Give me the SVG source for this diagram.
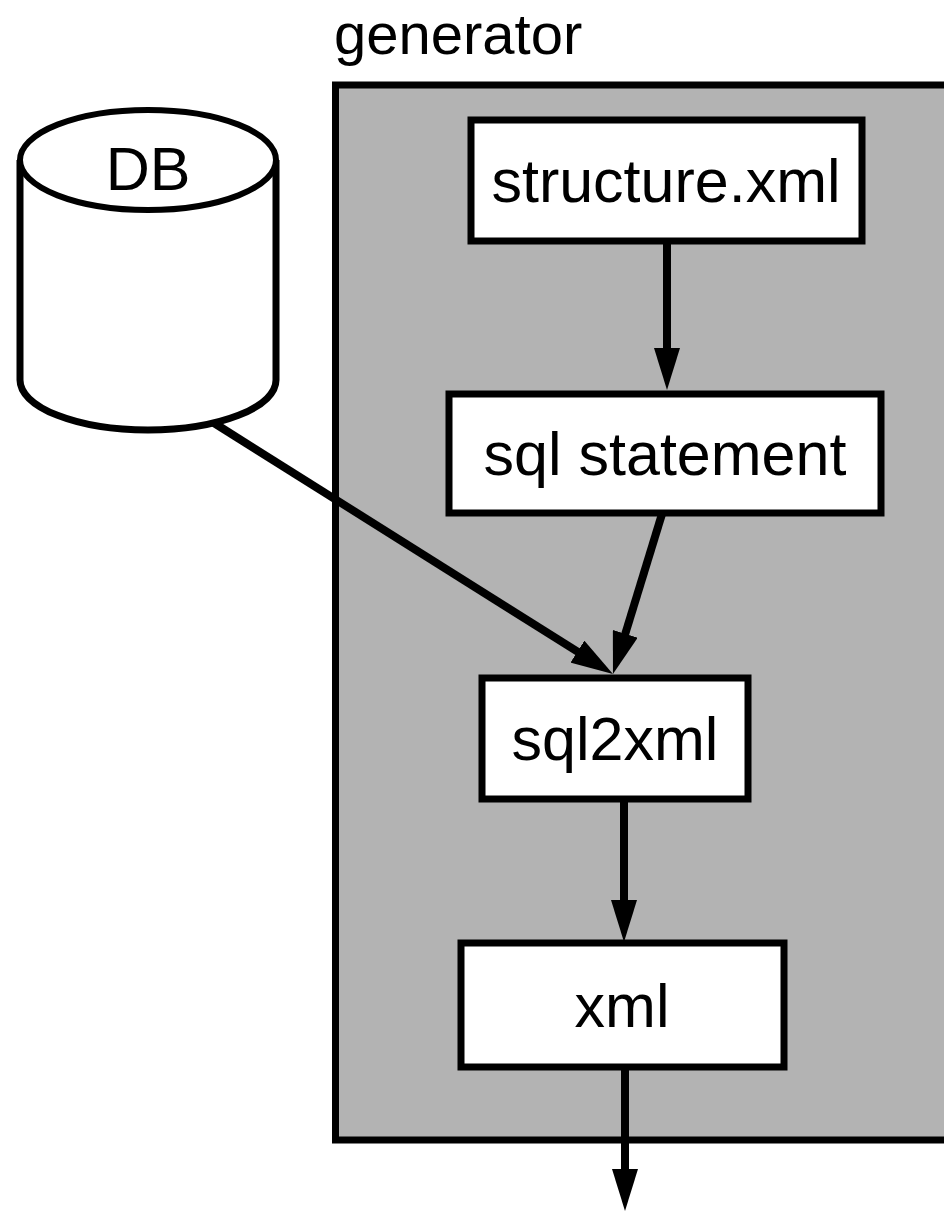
<svg xmlns="http://www.w3.org/2000/svg" width="944" height="1211" viewBox="0 0 944 1211">
<style>
.box{fill:#fff;stroke:#000;stroke-width:7}
.lbl{font-family:"Liberation Sans",Arial,sans-serif;font-size:61px;fill:#000;text-anchor:middle}
.edge{stroke:#000;stroke-width:8;fill:none}
</style>
<defs>
<marker id="ah" markerUnits="userSpaceOnUse" markerWidth="42" markerHeight="26" viewBox="-2 -13 42 26" refX="0" refY="0" orient="auto">
<path d="M-2,-13 L40,0 L-2,13 z" fill="#000"/>
</marker>
</defs>
<g id="generator">
<rect x="335.5" y="85" width="700" height="1055" fill="#b3b3b3" stroke="#000" stroke-width="7"/>
<text x="334" y="54" class="lbl" style="text-anchor:start;font-size:58px">generator</text>
</g>
<g id="db">
<path d="M20,160 L20,380 A128,50 0 0 0 276,380 L276,160" fill="#fff" stroke="#000" stroke-width="7"/>
<ellipse cx="148" cy="160" rx="128" ry="50" fill="#fff" stroke="#000" stroke-width="6"/>
<text x="148" y="190" class="lbl">DB</text>
</g>
<g id="structure">
<rect class="box" x="471" y="120" width="391" height="121"/>
<text x="666" y="202" class="lbl">structure.xml</text>
</g>
<g id="sqlstatement">
<rect class="box" x="449" y="394" width="432" height="119"/>
<text x="665" y="475" class="lbl">sql statement</text>
</g>
<g id="sql2xml">
<rect class="box" x="482" y="678" width="266" height="121"/>
<text x="615" y="760" class="lbl">sql2xml</text>
</g>
<g id="xml">
<rect class="box" x="461" y="943" width="323" height="124"/>
<text x="622" y="1027" class="lbl">xml</text>
</g>
<g id="connectors">
<line class="edge" x1="667" y1="241" x2="667" y2="350" marker-end="url(#ah)"/>
<line class="edge" x1="662" y1="514" x2="624.7" y2="635.7" marker-end="url(#ah)"/>
<line class="edge" x1="214" y1="423" x2="579.1" y2="652.7" marker-end="url(#ah)"/>
<line class="edge" x1="624" y1="799" x2="624" y2="902" marker-end="url(#ah)"/>
<line class="edge" x1="625" y1="1067" x2="625" y2="1171" marker-end="url(#ah)"/>
</g>
</svg>
